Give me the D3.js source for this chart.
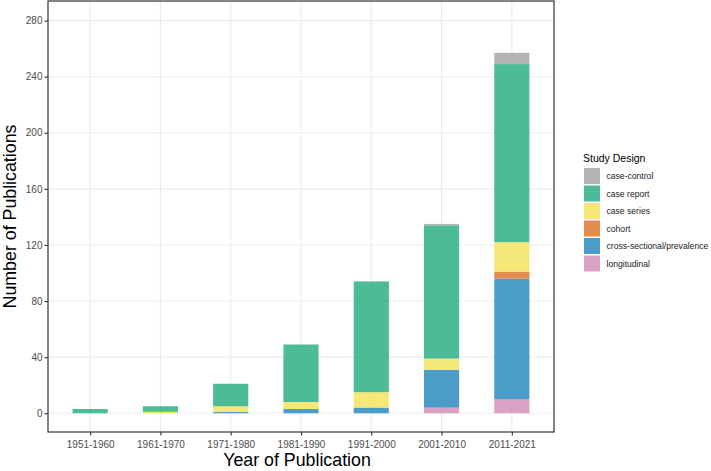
<!DOCTYPE html>
<html><head><meta charset="utf-8">
<script src="https://cdn.jsdelivr.net/npm/d3@7"></script>
<style>body{margin:0;background:#fff}svg{display:block;font-family:"Liberation Sans",Arial,sans-serif}</style>
</head><body><svg id="c" width="711" height="471"></svg>
<script>
const categories = ["1951-1960","1961-1970","1971-1980","1981-1990","1991-2000","2001-2010","2011-2021"];
const designs = ["case-control","case report","case series","cohort","cross-sectional/prevalence","longitudinal"];
const caseControl = [0,0,0,0,0,1,8];
const caseReport = [3,4,16,41,79,95,127];
const caseSeries = [0,1,4,5,11,8,21];
const cohort = [0,0,0,0,0,0,5];
const crossSectional = [0,0,1,3,4,27,86];
const longitudinal = [0,0,0,0,0,4,10];
const yTicks = [0,40,80,120,160,200,240,280];
const colors = ["#A8A8A8","#2CAF86","#F3E462","#DE782B","#2B8BC0","#D391BB"];

const seriesValues = {"case-control":caseControl,"case report":caseReport,"case series":caseSeries,"cohort":cohort,"cross-sectional/prevalence":crossSectional,"longitudinal":longitudinal};
const stackOrder = designs.slice().reverse(); // bottom first
const table = categories.map((c,i)=>{const o={cat:c};designs.forEach(d=>o[d]=seriesValues[d][i]);return o;});
const stacked = d3.stack().keys(stackOrder)(table);
const color = d3.scaleOrdinal().domain(designs).range(colors);

const svg = d3.select("#c");
const L=48,R=554,T=1,B=432;
const x = d3.scalePoint().domain(categories).range([L,R]).padding(0.6);
const y = d3.scaleLinear().domain([-13.4,294]).range([B,T]);
const bw = x.step()*0.5;

// panel background + grid
const g = svg.append("g");
g.selectAll(".hg").data(yTicks).join("line").attr("x1",L).attr("x2",R)
 .attr("y1",d=>y(d)).attr("y2",d=>y(d)).attr("stroke","#EBEBEB").attr("stroke-width",1.1);
g.selectAll(".vg").data(categories).join("line").attr("y1",T).attr("y2",B)
 .attr("x1",d=>x(d)).attr("x2",d=>x(d)).attr("stroke","#EBEBEB").attr("stroke-width",1.1);

// bars
svg.append("g").selectAll("g").data(stacked).join("g").attr("fill",d=>color(d.key)).attr("fill-opacity",0.85)
 .selectAll("rect").data(d=>d).join("rect")
 .attr("x",d=>x(d.data.cat)-bw/2).attr("width",bw)
 .attr("y",d=>y(d[1])).attr("height",d=>Math.max(0,y(d[0])-y(d[1])));

// panel border
svg.append("rect").attr("x",L).attr("y",T).attr("width",R-L).attr("height",B-T)
 .attr("fill","none").attr("stroke","#333333").attr("stroke-width",1.2);

// axes
const ya = svg.append("g").attr("transform",`translate(${L},0)`)
 .call(d3.axisLeft(y).tickValues(yTicks).tickSize(3.5).tickPadding(2));
const xa = svg.append("g").attr("transform",`translate(0,${B})`)
 .call(d3.axisBottom(x).tickSize(3.5).tickPadding(5));
[ya,xa].forEach(a=>{a.select(".domain").remove();
 a.selectAll(".tick line").attr("stroke","#333333").attr("stroke-width",1.1);
 a.selectAll(".tick text").attr("fill","#4D4D4D").style("font-size","10px").style("font-family","Liberation Sans, Arial, sans-serif");});

svg.append("text").attr("x",(L+R)/2-4).attr("y",466).attr("text-anchor","middle")
 .style("font-size","17.8px").attr("fill","#000").text("Year of Publication");
svg.append("text").attr("transform",`translate(16,${(T+B)/2}) rotate(-90)`).attr("text-anchor","middle")
 .style("font-size","17.8px").attr("fill","#000").text("Number of Publications");

// legend
const lg = svg.append("g");
lg.append("text").attr("x",583).attr("y",161.5).style("font-size","10.5px").attr("fill","#000").text("Study Design");
const items = lg.selectAll(".it").data(designs).join("g").attr("transform",(d,i)=>`translate(583.5,${176+i*17.5})`);
items.append("rect").attr("x",0).attr("y",-8.5).attr("width",17).attr("height",17).attr("fill","#fff");
items.append("rect").attr("x",0.5).attr("y",-8).attr("width",16).attr("height",16)
 .attr("fill",d=>color(d)).attr("fill-opacity",0.85);
items.append("text").attr("x",23).attr("y",0).attr("dy","0.35em").style("font-size","8.6px").attr("fill","#1A1A1A").text(d=>d);
</script></body></html>
